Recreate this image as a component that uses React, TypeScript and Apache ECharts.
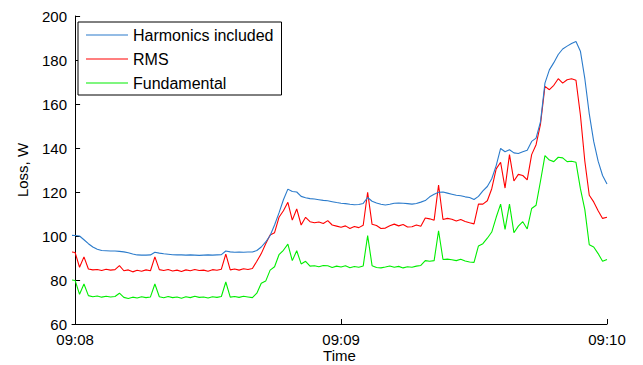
import React, { useEffect, useRef } from "react";
import * as echarts from "echarts";

// seconds after 09:08:00
const times = [
  -0.7, 0, 1, 2, 3, 4, 5, 6, 7, 8, 9, 10, 11, 12, 13, 14, 15, 16, 17, 18, 19,
  20, 21, 22, 23, 24, 25, 26, 27, 28, 29, 30, 31, 32, 33, 34, 35, 36, 37, 38, 39,
  40, 41, 42, 43, 44, 45, 46, 47, 48, 49, 50, 51, 52, 53, 54, 55, 56, 57, 58, 59,
  60, 61, 62, 63, 64, 65, 66, 67, 68, 69, 70, 71, 72, 73, 74, 75, 76, 77, 78, 79,
  80, 81, 82, 83, 84, 85, 86, 87, 88, 89, 90, 91, 92, 93, 94, 95, 96, 97, 98, 99,
  100, 101, 102, 103, 104, 105, 106, 107, 108, 109, 110, 111, 112, 113, 114, 115, 116, 117, 118, 119, 120,
];

const harmonics = [
  100.3, 100.2, 100, 98.3, 96.5, 95, 94, 93.4, 93.3, 93.2, 93.2, 93, 92.8, 92.4, 91.8, 91.4, 91.3, 91.3, 91.4, 92.6, 92.2,
  91.9, 91.7, 91.5, 91.4, 91.4, 91.3, 91.4, 91.3, 91.2, 91.3, 91.4, 91.3, 91.4, 91.5, 93.2, 92.8, 92.6, 92.7, 92.6, 92.7,
  92.7, 93.4, 95, 97.3, 100.2, 105, 110.5, 116.5, 121.3, 120.2, 120, 118, 117.4, 117, 116.8, 116.5, 116.2, 116, 115.6, 115.2,
  114.9, 114.7, 114.4, 114.2, 114.3, 114.8, 117.5, 115.8, 115, 114.4, 114.1, 114.4, 114.9, 115, 114.9, 114.7, 114.5, 114.8, 115.4, 116.1,
  117.8, 119, 119.9, 120, 119.5, 119, 118.5, 118.3, 117.8, 117.5, 116.6, 118, 120.5, 122.5, 126, 132, 139.8, 138.3, 139.2, 137.8,
  137.5, 138.3, 139, 143, 144.5, 152, 169.5, 175.5, 178.8, 182.5, 185, 186.3, 187.5, 188.4, 184, 171.5, 155.5, 143, 134, 127.5, 123.6,
];

const rms = [
  92.7, 92.5, 85.8, 90.5, 85, 84.6, 84.8, 84.3, 84.9, 84.5, 84.7, 86.5, 84.2, 84.6, 83.7, 84.4, 84, 84.6, 84.2, 90.5, 84.7,
  84.3, 84.8, 84.1, 84.5, 83.9, 84.6, 84.2, 84.8, 84.3, 84.5, 84, 84.7, 84.4, 84.9, 91.8, 84.6, 85, 84.5, 85.1, 84.8,
  85.2, 88.5, 92, 96.5, 100.5, 101.5, 108.5, 111.5, 115.3, 107.2, 112.3, 105, 108.5, 106.5, 106, 106.4, 105.7, 107, 105, 104.5,
  104, 104.6, 103.4, 104.3, 103.8, 104.9, 119.9, 105.3, 104.8, 103.4, 103.6, 104.7, 105.4, 104.6, 105.2, 104.1, 104.2, 105, 104.4, 108.2,
  107.8, 107.2, 123.2, 107.5, 108, 107.6, 106.8, 107.5, 106.6, 106, 105.5, 114.5, 114.5, 116, 121.5, 130.5, 133.5, 121.8, 137, 125,
  128, 127.5, 125.5, 137, 141.5, 150.9, 168, 166.5, 168.5, 171.5, 169.5, 171, 171.5, 170.8, 155, 134, 118.5, 115.5, 111.5, 108, 108.5,
];

const fundamental = [
  80, 79.8, 73.5, 78.2, 72.9, 72.4, 72.7, 72.2, 72.6, 72.3, 72.5, 74, 72.1, 71.6, 72.2, 71.8, 72.4, 72, 72.3, 78.2, 72.4,
  71.9, 72.5, 72, 72.3, 71.7, 72.4, 72, 72.6, 72.1, 72.3, 71.8, 72.4, 72.1, 72.5, 79.1, 72.2, 72.5, 72.1, 72.6, 72.3,
  72, 74, 78.5, 79.5, 84.5, 86, 91.5, 93.5, 96.3, 88.8, 93.3, 87.3, 88.5, 86.3, 86.5, 86, 86.6, 86.5, 85.7, 86.3,
  85.9, 86.5, 85.6, 86.1, 85.8, 86.4, 100.2, 86.5, 85.7, 85.5, 85.9, 86.4, 85.8, 86.2, 85.5, 86, 85.8, 86.3, 86.6, 88.8,
  88.5, 88.8, 102.4, 89.3, 89.5, 89.2, 88.8, 89.4, 88.6, 88.2, 88, 95.5, 96.5, 99, 101.8, 108.5, 114.5, 103, 114.5, 101.5,
  104.5, 106.5, 103.2, 112.5, 114, 125, 136.5, 134.5, 133.8, 135.8, 135.5, 133.8, 134, 133.5, 121.5, 112, 96, 95, 92, 88.5, 89.3,
];

const seriesNames = ["Harmonics included", "RMS", "Fundamental"];
const xTickSeconds = [0, 60, 120];
const xTickLabels = ["09:08", "09:09", "09:10"];

const FONT = "'Liberation Sans', Arial, sans-serif";

export default function App() {
  const ref = useRef<HTMLDivElement>(null);

  useEffect(() => {
    document.body.style.margin = "0";
    if (!ref.current) return;
    const chart = echarts.init(ref.current, undefined, { renderer: "svg" });
    const mk = (vals: number[]) => times.map((t, i) => [t, vals[i]]);
    const colors = ["#2b7bcb", "#ff0000", "#00ee00"];
    const datas = [harmonics, rms, fundamental];
    chart.setOption({
      animation: false,
      backgroundColor: "#ffffff",
      textStyle: { fontFamily: FONT, color: "#000" },
      grid: {
        left: 72,
        right: 36,
        top: 16,
        bottom: 41,
        containLabel: false,
        outerBoundsMode: "none",
      },
      legend: {
        show: true,
        orient: "vertical",
        left: 78,
        top: 22,
        data: seriesNames,
        icon: "path://M0,0 L42,0 L42,1 L0,1 Z",
        itemWidth: 42,
        itemHeight: 14,
        itemGap: 8,
        padding: [5, 8, 4, 8],
        borderColor: "#000",
        borderWidth: 1,
        backgroundColor: "#fff",
        textStyle: { fontFamily: FONT, fontSize: 16, color: "#000" },
      },
      xAxis: {
        type: "value",
        min: -0.7,
        max: 120,
        name: "Time",
        nameLocation: "middle",
        nameGap: 24,
        nameMoveOverlap: false,
        nameTextStyle: { fontFamily: FONT, fontSize: 15, lineHeight: 15, color: "#000" },
        splitLine: { show: false },
        axisLine: { lineStyle: { color: "#000", width: 1 } },
        axisTick: { inside: true, length: 5, lineStyle: { color: "#000" }, customValues: xTickSeconds },
        axisLabel: {
          customValues: xTickSeconds,
          margin: 8,
          fontFamily: FONT,
          fontSize: 15,
          color: "#000",
          formatter: (v: number) => xTickLabels[xTickSeconds.indexOf(Math.round(v))] ?? "",
        },
      },
      yAxis: {
        type: "value",
        min: 60,
        max: 200,
        interval: 20,
        name: "Loss, W",
        nameLocation: "middle",
        nameGap: 42,
        nameMoveOverlap: false,
        nameTextStyle: { fontFamily: FONT, fontSize: 15, color: "#000" },
        splitLine: { show: false },
        axisLine: { show: true, lineStyle: { color: "#000", width: 1 } },
        axisTick: { show: true, inside: true, length: 5, lineStyle: { color: "#000" } },
        axisLabel: { margin: 5, fontFamily: FONT, fontSize: 15, color: "#000" },
      },
      series: seriesNames.map((name, k) => ({
        name,
        type: "line",
        data: mk(datas[k]),
        symbol: "none",
        showSymbol: false,
        color: colors[k],
        lineStyle: { color: colors[k], width: 1.1 },
        z: 3 - k,
      })),
    });
    return () => chart.dispose();
  }, []);

  return <div ref={ref} style={{ width: 643, height: 365 }} />;
}
